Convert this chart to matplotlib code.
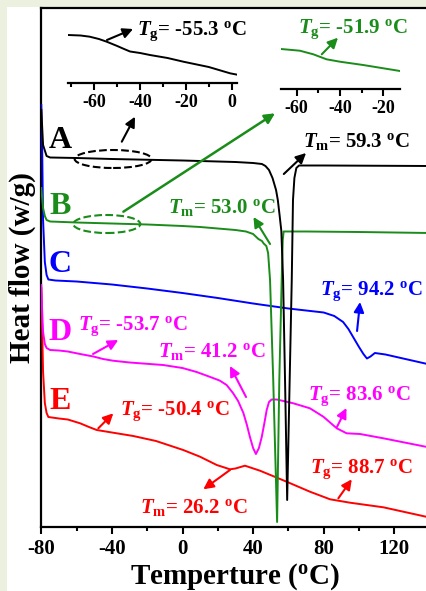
import numpy as np
import matplotlib
matplotlib.use("Agg")
import matplotlib.pyplot as plt
from matplotlib.patches import Ellipse, Rectangle
from matplotlib.ticker import MultipleLocator

# DSC traces, temperature (C) vs heat flow (arbitrary units)
T_A = [-80, -79, -77, -75, -60, -40, 0, 30, 40, 45, 47, 49, 51, 53, 54, 55, 56, 57, 58.2, 59.3,
       60.6, 61.9, 62.6, 63.4, 64.5, 66, 80, 140]
H_A = [417, 382, 371, 369.5, 369, 368, 366.5, 365, 364, 363, 361, 357, 349, 337, 327, 312, 296, 247, 137, 27,
       137, 247, 327, 349, 359, 361.5, 361.5, 361]

T_B = [-80, -79, -78, -77, -75, -60, -40, -20, 0, 10, 20, 30, 36, 40, 43, 45, 46, 47.5, 48.5, 49.6,
       51.4, 53.6, 54.85, 56.2, 56.8, 57.3, 70, 100, 140]
H_B = [339, 319, 311, 307, 305.5, 304.5, 303.5, 302.5, 301, 300, 298.5, 297, 295.5, 293, 288, 286, 283.5, 281, 274, 247,
       147, 5, 147, 247, 287, 295.5, 295.5, 295, 294]

T_C = [-80, -79.5, -79, -78, -77, -76, -72, -60, -40, -20, 0, 20, 40, 60, 80, 86, 91, 94, 97, 100,
       102.5, 104.5, 106.5, 109, 115, 125, 140]
H_C = [422, 377, 307, 265, 252, 247.5, 246.5, 245.5, 242.5, 238.5, 234, 229, 223.5, 218.5, 214.5, 211, 205, 198, 189, 180,
       173, 168.5, 170.5, 174, 172.5, 168.5, 162.5]

T_D = [-80, -79.5, -79, -78, -77, -75, -70, -65, -58, -50.5, -45, -39.4, -30, -11, 0, 8, 15, 21, 25, 28.6,
       31.5, 34.5, 36.5, 38.2, 40, 41.6, 43.3, 44.9, 46.3, 47.7, 49, 50.5, 53.4, 62.8, 72.2, 79.8, 87.4, 93,
       100.6, 113.8, 140]
H_D = [242, 215, 195, 183, 179, 177, 176.5, 175.5, 173, 170.5, 168, 166.3, 164.5, 162, 159, 155, 150.5, 146.5, 142, 134,
       126, 114, 102, 90, 79, 73, 79, 90, 103, 117, 125, 127.5, 127.5, 123.7, 118.7, 110.3, 98.7, 93.7,
       93, 88.7, 79.5]

T_E = [-80, -79.5, -79, -78, -77, -76, -70, -65, -58, -53, -48.6, -40, -27.9, -15, 0.4, 9.9, 19.4, 26.9, 30, 35.4,
       43.9, 59, 72.2, 83.6, 94.9, 113.8, 140]
H_E = [239, 197, 155, 124, 114, 110, 108.5, 107.5, 103.7, 100, 97, 94.5, 91, 86, 77, 70.3, 62, 57.7, 58.5, 61.3,
       56.3, 45.3, 35.3, 27.7, 24.3, 19.7, 9.5]

# zoomed insets (glass transition region of A and B)
T_inA = [-71.5, -66, -62, -58, -54.6, -50, -47, -44.4, -40, -35.7, -28, -21.1, -10, -0.7, 2]
H_inA = [48, 47.5, 46.3, 44, 41.3, 37, 34, 31.5, 30, 28, 25, 21.3, 16, 9.7, 8.5]
T_inB = [-67.2, -58.5, -52.3, -46.2, -40, -29.3, -12.3]
H_inB = [40, 38.3, 34.7, 29.7, 27.3, 24, 18]

xticks = [-80, -40, 0, 40, 80, 120]
curve_names = ['A', 'B', 'C', 'D', 'E']
colors = ['black', '#1a8c1a', '#0000ff', '#ff00ff', '#ff0000']

plt.rcParams['font.family'] = 'Liberation Serif'
plt.rcParams['font.weight'] = 'bold'
plt.rcParams['axes.labelweight'] = 'bold'
plt.rcParams['axes.unicode_minus'] = False
plt.rcParams['mathtext.fontset'] = 'custom'
plt.rcParams['mathtext.rm'] = 'Liberation Serif:weight=bold'
plt.rcParams['mathtext.it'] = 'Liberation Serif:style=italic:weight=bold'
plt.rcParams['mathtext.bf'] = 'Liberation Serif:weight=bold'

W, Hh = 426.0, 591.0
fig = plt.figure(figsize=(4.26, 5.91), dpi=100, facecolor='#ebf1de')
fig.add_artist(Rectangle((7 / W, 0), 1, 1 - 7 / Hh, transform=fig.transFigure,
                         facecolor='white', edgecolor='none', zorder=-10))

ax = fig.add_axes([41.3 / W, 1 - 527 / Hh, 388.3 / W, 519 / Hh])
ax.set_xlim(-80, 140)
ax.set_ylim(0, 519)
ax.patch.set_visible(False)

traces = [(T_A, H_A), (T_B, H_B), (T_C, H_C), (T_D, H_D), (T_E, H_E)]
for i, (t, h) in enumerate(traces):
    ax.plot(t, h, color=colors[i], lw=1.4, zorder=10 - i)

for s in ax.spines.values():
    s.set_linewidth(1.6)
ax.spines['right'].set_visible(False)
ax.set_yticks([])
ax.set_xticks(xticks)
ax.xaxis.set_minor_locator(MultipleLocator(20))
ax.tick_params(axis='x', which='major', direction='out', length=5, width=1.5, labelsize=15, pad=4)
ax.tick_params(axis='x', which='minor', direction='out', length=3, width=1.5)
ax.set_xticklabels(['%d' % v for v in xticks])
xl = ax.set_xlabel(r'Temperture ($^{\mathrm{o}}$C)', fontsize=21)
xl.set_va('baseline')
ax.xaxis.set_label_coords((235 - 41.3) / 388.3, -(584 - 527) / 519)
fig.text(22 / W, 1 - 268 / Hh, 'Heat flow (w/g)', rotation=90, fontsize=21,
         ha='center', va='center')

# curve letters
for name, c, y in zip(curve_names, colors, [387, 320, 262, 194.5, 125.5]):
    ax.text(-69.4, y, name, color=c, fontsize=23, ha='center', va='center')


def arrow(x0, y0, x1, y1, c, lw=1.5):
    ax.annotate('', xy=(x1, y1), xytext=(x0, y0),
                arrowprops=dict(arrowstyle='-|>,head_length=0.6,head_width=0.3',
                                color=c, lw=lw, shrinkA=0, shrinkB=0), zorder=20)


def label(x, y, sub, val, c):
    ax.text(x, y, r'$T_{\mathrm{%s}}$= %s $^{\mathrm{o}}$C' % (sub, val), color=c,
            fontsize=15, ha='left', va='baseline', zorder=20)


label(68.3, 380, 'm', '59.3', colors[0]); arrow(57.4, 353, 70.0, 374, colors[0])
label(-8.2, 314, 'm', '53.0', colors[1]); arrow(49.6, 283, 40.2, 310, colors[1])
label(77.8, 232, 'g', '94.2', colors[2]); arrow(98.9, 196, 100.6, 225, colors[2])
label(-59.0, 197, 'g', '-53.7', colors[3]); arrow(-50.7, 173, -36.4, 187, colors[3])
label(-13.9, 170.3, 'm', '41.2', colors[3]); arrow(36, 130, 26.9, 161, colors[3])
label(71.3, 127, 'g', '83.6', colors[3]); arrow(87.5, 100, 92.9, 119, colors[3])
label(-35.4, 112, 'g', '-50.4', colors[4]); arrow(-47.7, 98.7, -39.2, 113.7, colors[4])
label(-24.1, 14, 'm', '26.2', colors[4]); arrow(26.9, 57, 11.8, 37.7, colors[4])
label(72.2, 54.3, 'g', '88.7', colors[4]); arrow(88.3, 28.7, 95.9, 47.7, colors[4])
label(-25.8, 492, 'g', '-55.3', colors[0]); arrow(-42.8, 487, -28, 498, colors[0])
label(65.4, 494, 'g', '-51.9', colors[1]); arrow(78.9, 472.7, 88.1, 489.3, colors[1])

# dashed ellipses marking the zoomed regions
ax.add_patch(Ellipse((-39.3, 368), 43.6, 18, fill=False, ls='--', lw=1.5, color=colors[0], zorder=15))
ax.add_patch(Ellipse((-42.9, 303), 38, 18, fill=False, ls='--', lw=1.5, color=colors[1], zorder=15))
arrow(-34.4, 385.3, -26.9, 410.3, colors[0])
arrow(-33.5, 315.3, 52.4, 413.7, colors[1], lw=1.8)

# insets
for (l, r, bot, top, xlim, t, h, c, ymax) in [
        (68, 236.7, 83, 33, (-71.5, 2.2), T_inA, H_inA, colors[0], 50),
        (281, 400, 89, 39, (-67.2, -12.3), T_inB, H_inB, colors[1], 50)]:
    ia = fig.add_axes([l / W, 1 - bot / Hh, (r - l) / W, (bot - top) / Hh])
    ia.plot(t, h, color=c, lw=1.4)
    ia.set_xlim(*xlim)
    ia.set_ylim(0, ymax)
    ia.patch.set_visible(False)
    for k in ['left', 'right', 'top']:
        ia.spines[k].set_visible(False)
    ia.spines['bottom'].set_linewidth(1.6)
    ia.set_yticks([])
    ia.xaxis.set_major_locator(MultipleLocator(20))
    ia.xaxis.set_minor_locator(MultipleLocator(10))
    ia.tick_params(axis='x', which='major', direction='out', length=5, width=1.5, labelsize=13, pad=3)
    ia.tick_params(axis='x', which='minor', direction='out', length=3, width=1.5)

fig.savefig('out.png', dpi=100, facecolor=fig.get_facecolor())
